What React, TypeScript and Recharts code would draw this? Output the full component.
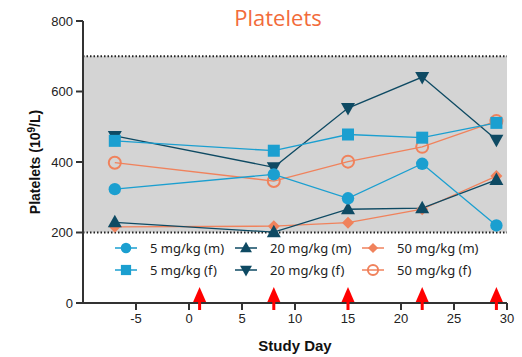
import React from "react";
import {
  ComposedChart,
  Line,
  Scatter,
  XAxis,
  YAxis,
  ReferenceArea,
  ReferenceLine,
  Legend,
  Label,
} from "recharts";

const days = [-7, 8, 15, 22, 29];
const m5 = [323, 365, 297, 395, 220];
const f5 = [460, 432, 478, 469, 511];
const m20 = [229, 201, 266, 269, 349];
const f20 = [474, 385, 553, 641, 463];
const m50 = [216, 218, 228, 266, 360];
const f50 = [398, 346, 401, 443, 516];
const doseDays = [1, 8, 15, 22, 29];
const xTicks = [-5, 0, 5, 10, 15, 20, 25, 30];
const yTicks = [0, 200, 400, 600, 800];

const LIGHT = "#1b9fd0";
const DARK = "#0e4a63";
const SALMON = "#f0825c";

const data = days.map((d, i) => ({
  day: d,
  m5: m5[i],
  f5: f5[i],
  m20: m20[i],
  f20: f20[i],
  m50: m50[i],
  f50: f50[i],
}));
const arrows = doseDays.map((d) => ({ day: d, arrow: 0 }));

type Shape = "circle" | "square" | "up" | "down" | "diamond" | "open";

const series: { key: string; name: string; color: string; shape: Shape }[] = [
  { key: "m50", name: "50 mg/kg (m)", color: SALMON, shape: "diamond" },
  { key: "f50", name: "50 mg/kg (f)", color: SALMON, shape: "open" },
  { key: "m20", name: "20 mg/kg (m)", color: DARK, shape: "up" },
  { key: "f20", name: "20 mg/kg (f)", color: DARK, shape: "down" },
  { key: "m5", name: "5 mg/kg (m)", color: LIGHT, shape: "circle" },
  { key: "f5", name: "5 mg/kg (f)", color: LIGHT, shape: "square" },
];

const legendOrder = [
  ["m5", "m20", "m50"],
  ["f5", "f20", "f50"],
];

function marker(shape: Shape, cx: number, cy: number, color: string, s = 1, key?: string) {
  switch (shape) {
    case "circle":
      return <circle key={key} cx={cx} cy={cy} r={6.2 * s} fill={color} />;
    case "square":
      return (
        <rect key={key} x={cx - 6 * s} y={cy - 6 * s} width={12 * s} height={12 * s} fill={color} />
      );
    case "up":
      return (
        <polygon
          key={key}
          points={`${cx},${cy - 7.5 * s} ${cx - 7 * s},${cy + 5 * s} ${cx + 7 * s},${cy + 5 * s}`}
          fill={color}
        />
      );
    case "down":
      return (
        <polygon
          key={key}
          points={`${cx},${cy + 7.5 * s} ${cx - 7 * s},${cy - 5 * s} ${cx + 7 * s},${cy - 5 * s}`}
          fill={color}
        />
      );
    case "diamond":
      return (
        <polygon
          key={key}
          points={`${cx},${cy - 6 * s} ${cx + 6 * s},${cy} ${cx},${cy + 6 * s} ${cx - 6 * s},${cy}`}
          fill={color}
        />
      );
    case "open":
      return (
        <circle key={key} cx={cx} cy={cy} r={6 * s} fill="none" stroke={color} strokeWidth={2} />
      );
  }
}

const ArrowShape = (props: any) => {
  const { cx, cy } = props;
  return (
    <g>
      <rect x={cx - 1.5} y={cy - 4} width={3} height={11} fill="#ff0000" />
      <polygon points={`${cx},${cy - 16} ${cx - 6.5},${cy - 1} ${cx + 6.5},${cy - 1}`} fill="#ff0000" />
    </g>
  );
};

const colX = [115, 235, 362];
const textX = [150, 270, 397];
const rowY = [248, 270];

const LegendContent = () => {
  const byKey: Record<string, (typeof series)[number]> = {};
  series.forEach((s) => (byKey[s.key] = s));
  return (
    <svg width={522} height={357} style={{ position: "absolute", left: 0, top: 0, pointerEvents: "none" }}>
      {legendOrder.map((row, r) =>
        row.map((k, c) => {
          const s = byKey[k];
          const y = rowY[r];
          return (
            <g key={k}>
              <line x1={colX[c]} x2={colX[c] + 22} y1={y} y2={y} stroke={s.color} strokeWidth={1.5} />
              {marker(s.shape, colX[c] + 11, y, s.color, 0.85)}
              <text
                x={textX[c]}
                y={y + 4.5}
                fontFamily="'Noto Sans', sans-serif"
                fontSize={13}
                fill="#222"
              >
                {s.name}
              </text>
            </g>
          );
        })
      )}
    </svg>
  );
};

const YLabel = () => (
  <text
    transform="translate(40,162) rotate(-90)"
    textAnchor="middle"
    fontFamily="'Liberation Sans', Arial, sans-serif"
    fontWeight="bold"
    fontSize={14}
    fill="#111"
  >
    Platelets (10<tspan dy={-5} fontSize={10}>9</tspan>
    <tspan dy={5}>/L)</tspan>
  </text>
);

export default function App() {
  return (
    <div style={{ position: "absolute", left: 0, top: 0, width: 522, height: 357, background: "#fff" }}>
      <div
        style={{
          position: "absolute",
          left: 0,
          width: 556,
          top: 2,
          textAlign: "center",
          fontFamily: "'Open Sans', sans-serif",
          fontSize: 22,
          color: "#f26b3a",
          zIndex: 2,
        }}
      >
        Platelets
      </div>
      <ComposedChart
        width={522}
        height={357}
        data={data}
        margin={{ top: 21, right: 15, bottom: 0, left: 0 }}
      >
        <ReferenceArea y1={200} y2={700} fill="#d4d4d4" fillOpacity={1} stroke="none" />
        <ReferenceLine y={700} stroke="#222" strokeWidth={2} strokeDasharray="1.5 2" />
        <ReferenceLine y={200} stroke="#222" strokeWidth={2} strokeDasharray="1.5 2" />
        <XAxis
          dataKey="day"
          type="number"
          domain={[-10, 30]}
          ticks={xTicks}
          height={54}
          stroke="#333"
          strokeWidth={2}
          tickSize={7}
          tick={{ fill: "#222", fontSize: 13, fontFamily: "'Liberation Sans', Arial, sans-serif" }}
          tickMargin={4}
        >
          <Label
            value="Study Day"
            position="insideBottom"
            offset={6}
            style={{ fontWeight: "bold", fontSize: 15, fill: "#111", fontFamily: "'Liberation Sans', Arial, sans-serif" }}
          />
        </XAxis>
        <YAxis
          type="number"
          domain={[0, 800]}
          ticks={yTicks}
          width={83}
          stroke="#333"
          strokeWidth={2}
          tickSize={7}
          tickMargin={3}
          tick={{ fill: "#222", fontSize: 13, fontFamily: "'Liberation Sans', Arial, sans-serif" }}
        >
          <Label content={<YLabel />} />
        </YAxis>
        {series.map((s) => (
          <Line
            key={s.key}
            dataKey={s.key}
            name={s.name}
            stroke={s.color}
            strokeWidth={1.3}
            isAnimationActive={false}
            dot={(p: any) => marker(s.shape, p.cx, p.cy, s.color, 1, `${s.key}-${p.index}`)}
            activeDot={false}
          />
        ))}
        <Scatter
          data={arrows}
          dataKey="arrow"
          shape={<ArrowShape />}
          isAnimationActive={false}
          legendType="none"
        />
        <Legend content={<LegendContent />} wrapperStyle={{ left: 0, top: 0, width: 0, height: 0 }} />
      </ComposedChart>
    </div>
  );
}
